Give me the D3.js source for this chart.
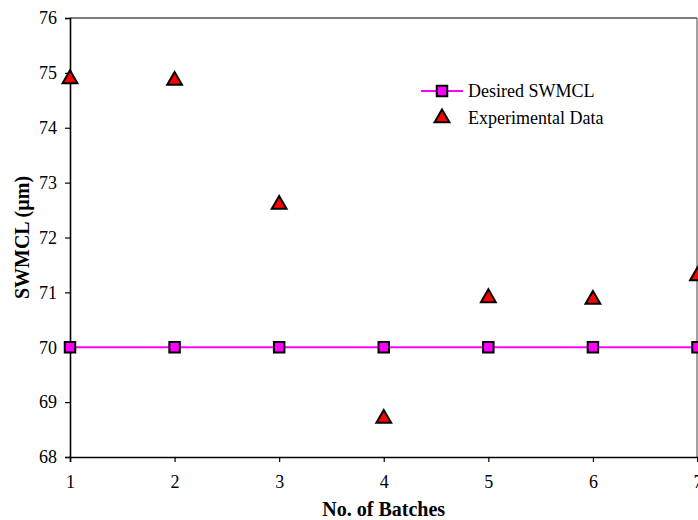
<!DOCTYPE html>
<html>
<head>
<meta charset="utf-8">
<script src="https://cdn.jsdelivr.net/npm/d3@7"></script>
<style>
  html, body { margin: 0; padding: 0; background: #fff; }
  svg { display: block; }
  text { font-family: "Liberation Serif", "Times New Roman", serif; fill: #000; }
</style>
</head>
<body>
<script>
const batches = [1, 2, 3, 4, 5, 6, 7];
const desired = [70, 70, 70, 70, 70, 70, 70];
const experimental = [74.89, 74.86, 72.6, 68.7, 70.9, 70.87, 71.3];
const yTicks = [68, 69, 70, 71, 72, 73, 74, 75, 76];
const xTicks = [1, 2, 3, 4, 5, 6, 7];
const seriesNames = ["Desired SWMCL", "Experimental Data"];

const W = 698, H = 520;
const m = { left: 70, right: 1, top: 18, bottom: 63 };

const svg = d3.select("body").append("svg").attr("width", W).attr("height", H);

const x = d3.scaleLinear().domain([1, 7]).range([m.left, 697.5]);
const y = d3.scaleLinear().domain([68, 76]).range([H - m.bottom, m.top]);

// top and right frame
svg.append("line").attr("x1", x(1)).attr("x2", 697).attr("y1", y(76)).attr("y2", y(76))
  .attr("stroke", "#000").attr("stroke-width", 1.2);
svg.append("line").attr("x1", 697).attr("x2", 697).attr("y1", y(76)).attr("y2", y(68))
  .attr("stroke", "#444").attr("stroke-width", 1);

// axes
const yAxis = svg.append("g").attr("transform", `translate(${x(1)},0)`)
  .call(d3.axisLeft(y).tickValues(yTicks).tickFormat(d3.format("d")).tickSize(5).tickPadding(8));
const xAxis = svg.append("g").attr("transform", `translate(0,${y(68)})`)
  .call(d3.axisBottom(x).tickValues(xTicks).tickFormat(d3.format("d")).tickSize(5).tickPadding(13));
[yAxis, xAxis].forEach(g => {
  g.select(".domain").attr("stroke", "#000").attr("stroke-width", 1.6);
  g.selectAll(".tick line").attr("stroke", "#000").attr("stroke-width", 1.2);
  g.selectAll(".tick text").attr("font-family", "Liberation Serif").attr("font-size", 18).attr("fill", "#000");
});

// axis titles
svg.append("text").attr("x", (x(1) + x(7)) / 2).attr("y", 516)
  .attr("text-anchor", "middle").attr("font-size", 20).attr("font-weight", "bold")
  .text("No. of Batches");
svg.append("text").attr("transform", `translate(29,${(y(68) + y(76)) / 2}) rotate(-90)`)
  .attr("text-anchor", "middle").attr("font-size", 20).attr("font-weight", "bold")
  .text("SWMCL (µm)");

// desired line
const line = d3.line().x((d, i) => x(batches[i])).y(d => y(d));
svg.append("path").datum(desired).attr("d", line)
  .attr("fill", "none").attr("stroke", "#FF00FF").attr("stroke-width", 2);

const sq = d3.symbol().type(d3.symbolSquare).size(110);
const tri = d3.symbol().type(d3.symbolTriangle).size(95);

svg.append("g").selectAll("path").data(desired).join("path")
  .attr("transform", (d, i) => `translate(${x(batches[i])},${y(d)})`)
  .attr("d", sq).attr("fill", "#FF00FF").attr("stroke", "#000").attr("stroke-width", 2);

svg.append("g").selectAll("path").data(experimental).join("path")
  .attr("transform", (d, i) => `translate(${x(batches[i])},${y(d)})`)
  .attr("d", tri).attr("fill", "#FF0000").attr("stroke", "#000").attr("stroke-width", 2);

// legend
const lg = svg.append("g");
lg.append("line").attr("x1", 421).attr("x2", 463).attr("y1", 91).attr("y2", 91)
  .attr("stroke", "#FF00FF").attr("stroke-width", 2);
lg.append("path").attr("transform", "translate(442,91)").attr("d", sq)
  .attr("fill", "#FF00FF").attr("stroke", "#000").attr("stroke-width", 2);
lg.append("text").attr("x", 468).attr("y", 97).attr("font-size", 18).text(seriesNames[0]);
lg.append("path").attr("transform", "translate(442,118)").attr("d", tri)
  .attr("fill", "#FF0000").attr("stroke", "#000").attr("stroke-width", 2);
lg.append("text").attr("x", 468).attr("y", 124).attr("font-size", 18).text(seriesNames[1]);
</script>
</body>
</html>
